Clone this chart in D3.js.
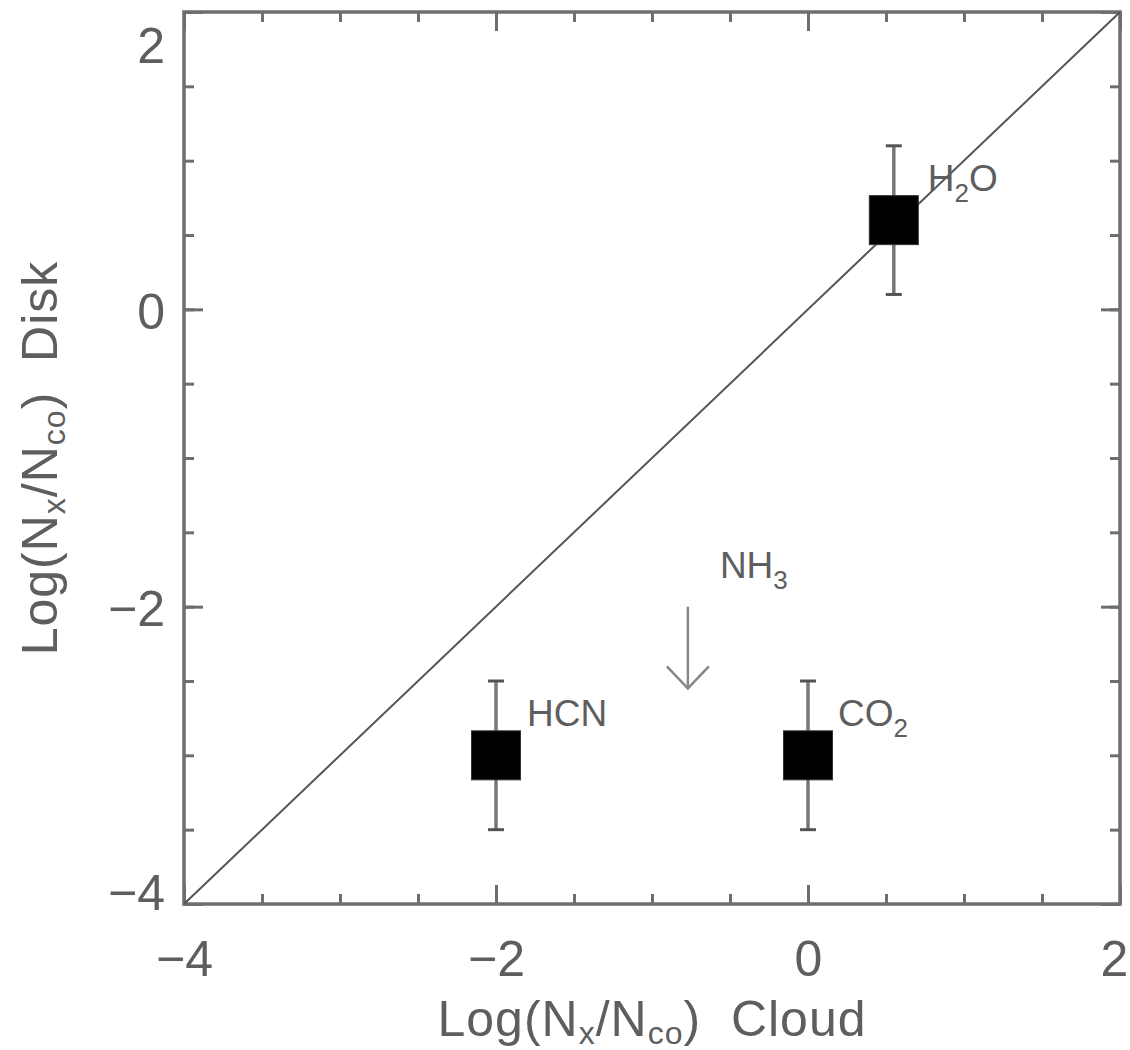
<!DOCTYPE html>
<html>
<head>
<meta charset="utf-8">
<script src="https://cdn.jsdelivr.net/npm/d3@7"></script>
<style>
  html, body { margin: 0; padding: 0; background: #fff; }
  svg text { font-family: "Liberation Sans", Arial, Helvetica, sans-serif; fill: #5e5e5e; }
</style>
</head>
<body>
<svg id="chart" width="1130" height="1050"></svg>
<script>
// Molecular abundance ratios: cloud vs disk (log N_X / N_CO)
const molecules  = ["H2O", "HCN", "CO2"];
const cloudLog   = [0.55, -2.0, 0.0];
const diskLog    = [0.60, -3.0, -3.0];
const diskErr    = [0.50, 0.50, 0.50];

// NH3 upper limit (arrow)
const limitX     = [-0.77];
const limitFrom  = [-2.0];
const limitTo    = [-2.55];

// Axis ticks
const majorTicks = [-4, -2, 0, 2];
const minorTicks = [-4, -3.5, -3, -2.5, -2, -1.5, -1, -0.5, 0, 0.5, 1, 1.5, 2];

// Label text pieces: [main, subscript, trailing]
const labelParts = {
  H2O: ["H", "2", "O"],
  HCN: ["HCN", "", ""],
  CO2: ["CO", "2", ""]
};

const margin = { left: 184, top: 12, right: 10, bottom: 146 };
const pw = 1120 - margin.left, ph = 904 - margin.top;

const svg = d3.select("#chart");
const g = svg.append("g").attr("transform", `translate(${margin.left},${margin.top})`);

const x = d3.scaleLinear().domain([-4, 2]).range([0, pw]);
const y = d3.scaleLinear().domain([-4, 2]).range([ph, 0]);

const fmt = d => (d < 0 ? "\u2212" + Math.abs(d) : String(d));
const axisColor = "#6e6e6e";

function styleAxis(sel) {
  sel.select(".domain").remove();
  sel.selectAll(".tick line").attr("stroke", axisColor).attr("stroke-width", 3);
  sel.selectAll(".tick text").style("font-size", "50px");
}

// bottom
g.append("g").attr("transform", `translate(0,${ph})`)
  .call(d3.axisBottom(x).tickValues(minorTicks).tickSize(-10).tickFormat(""))
  .call(styleAxis);
g.append("g").attr("transform", `translate(0,${ph})`)
  .call(d3.axisBottom(x).tickValues(majorTicks).tickSize(-19).tickPadding(36).tickFormat(fmt))
  .call(styleAxis)
  .call(a => a.selectAll(".tick text").filter(d => d === 2).attr("dx", -6));
// top
g.append("g")
  .call(d3.axisTop(x).tickValues(minorTicks).tickSize(-10).tickFormat(""))
  .call(styleAxis);
g.append("g")
  .call(d3.axisTop(x).tickValues(majorTicks).tickSize(-19).tickFormat(""))
  .call(styleAxis);
// left (end labels kept inside the frame's vertical extent)
g.append("g")
  .call(d3.axisLeft(y).tickValues(minorTicks).tickSize(-10).tickFormat(""))
  .call(styleAxis);
g.append("g")
  .call(d3.axisLeft(y).tickValues(majorTicks).tickSize(-19).tickPadding(19).tickFormat(fmt))
  .call(styleAxis)
  .call(a => a.selectAll(".tick text")
    .attr("dy", d => d === 2 ? "1.0em" : d === -4 ? "0.1em" : "0.38em"));
// right
g.append("g").attr("transform", `translate(${pw},0)`)
  .call(d3.axisRight(y).tickValues(minorTicks).tickSize(-10).tickFormat(""))
  .call(styleAxis);
g.append("g").attr("transform", `translate(${pw},0)`)
  .call(d3.axisRight(y).tickValues(majorTicks).tickSize(-19).tickFormat(""))
  .call(styleAxis);

// frame
g.append("rect")
  .attr("x", 0).attr("y", 0).attr("width", pw).attr("height", ph)
  .attr("fill", "none").attr("stroke", axisColor).attr("stroke-width", 3.5);

// one-to-one line
g.append("line")
  .attr("x1", x(-4)).attr("y1", y(-4)).attr("x2", x(2)).attr("y2", y(2))
  .attr("stroke", "#555").attr("stroke-width", 2);

// error bars
const pts = molecules.map((m, i) => ({ m, cx: cloudLog[i], cy: diskLog[i], e: diskErr[i] }));
const eb = g.selectAll("g.err").data(pts).join("g").attr("class", "err");
eb.append("line")
  .attr("x1", d => x(d.cx)).attr("x2", d => x(d.cx))
  .attr("y1", d => y(d.cy + d.e)).attr("y2", d => y(d.cy - d.e))
  .attr("stroke", "#777").attr("stroke-width", 3.5);
[1, -1].forEach(s => {
  eb.append("line")
    .attr("x1", d => x(d.cx) - 8).attr("x2", d => x(d.cx) + 8)
    .attr("y1", d => y(d.cy + s * d.e)).attr("y2", d => y(d.cy + s * d.e))
    .attr("stroke", "#555").attr("stroke-width", 3);
});

// markers
const sq = 49;
g.selectAll("rect.pt").data(pts).join("rect").attr("class", "pt")
  .attr("x", d => x(d.cx) - sq / 2).attr("y", d => y(d.cy) - sq / 2)
  .attr("width", sq).attr("height", sq)
  .attr("fill", "#000").attr("stroke", "#333").attr("stroke-width", 1);

// labels with subscripts
const labelOffsets = { H2O: [34, -29], HCN: [31, -29], CO2: [30, -29] };
function subLabel(parent, px, py, parts) {
  const t = parent.append("text").attr("x", px).attr("y", py).style("font-size", "37px");
  t.append("tspan").text(parts[0]);
  if (parts[1]) {
    t.append("tspan").attr("dy", 11).style("font-size", "26px").text(parts[1]);
    if (parts[2]) t.append("tspan").attr("dy", -11).text(parts[2]);
  }
  return t;
}
pts.forEach(d => {
  const o = labelOffsets[d.m];
  subLabel(g, x(d.cx) + o[0], y(d.cy) + o[1], labelParts[d.m]);
});

// NH3 upper limit arrow
limitX.forEach((lx, i) => {
  const ax = x(lx), y0 = y(limitFrom[i]), y1 = y(limitTo[i]);
  g.append("line").attr("x1", ax).attr("x2", ax).attr("y1", y0).attr("y2", y1)
    .attr("stroke", "#888").attr("stroke-width", 2.5);
  g.append("path")
    .attr("d", `M${ax - 21},${y1 - 22} L${ax},${y1} L${ax + 21},${y1 - 22}`)
    .attr("fill", "none").attr("stroke", "#888").attr("stroke-width", 2.5);
  subLabel(g, ax + 32, y0 - 29, ["NH", "3", ""]);
});

// axis titles
function axisTitle(tx, ty, rot, tail) {
  const t = svg.append("text")
    .attr("transform", `translate(${tx},${ty}) rotate(${rot})`)
    .attr("text-anchor", "middle")
    .style("font-size", "50px")
    .style("letter-spacing", "1px")
    .style("white-space", "pre");
  t.append("tspan").text("Log(N");
  t.append("tspan").attr("dy", 8).style("font-size", "32px").text("x");
  t.append("tspan").attr("dy", -8).text("/N");
  t.append("tspan").attr("dy", 8).style("font-size", "32px").text("co");
  t.append("tspan").attr("dy", -8).text(")  " + tail);
}
axisTitle(margin.left + pw / 2, 1036, 0, "Cloud");
axisTitle(57, margin.top + ph / 2, -90, "Disk");
</script>
</body>
</html>
